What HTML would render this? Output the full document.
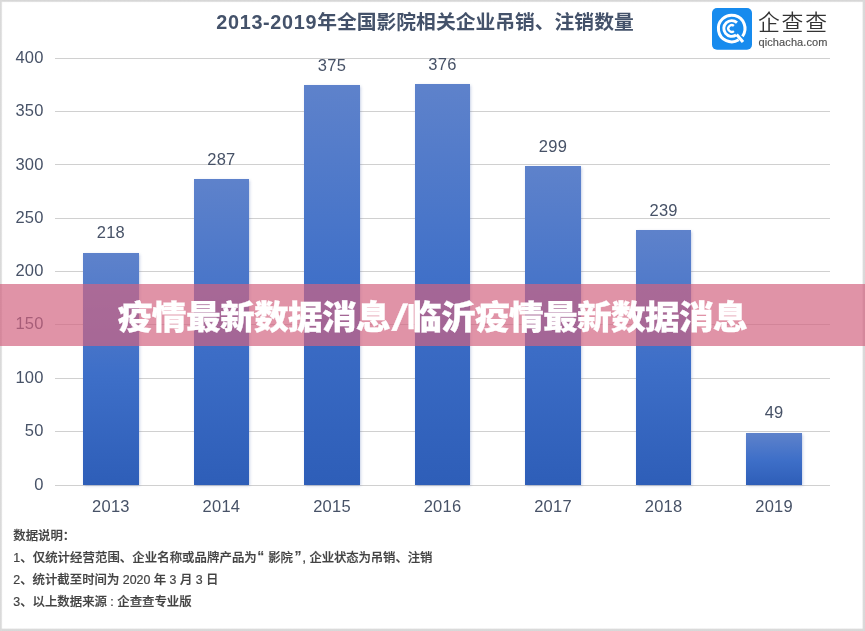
<!DOCTYPE html>
<html lang="zh-CN">
<head>
<meta charset="utf-8">
<title>疫情最新数据消息/临沂疫情最新数据消息</title>
<style>
html,body{margin:0;padding:0;}
body{width:865px;height:631px;overflow:hidden;background:#fff;position:relative;font-family:"Liberation Sans","Noto Sans CJK SC",sans-serif;}
.chart{position:absolute;left:0;top:0;width:865px;height:631px;background:#fff;filter:blur(.35px);}
.edge{position:absolute;}
.et{left:0;top:0;width:865px;height:3px;background:linear-gradient(to bottom,#d6d6d6 0,#d8d8d8 1.2px,#fff 2.6px);}
.eb{left:0;bottom:0;width:865px;height:3px;background:linear-gradient(to top,#d8d8d8 0,#dadada 1.6px,#fff 3px);}
.el{left:0;top:0;width:3px;height:631px;background:linear-gradient(to right,#d9d9d9 0,#dbdbdb 1.2px,rgba(255,255,255,0) 2.6px);}
.er{right:0;top:0;width:3px;height:631px;background:linear-gradient(to left,#d8d8d8 0,#dadada 1.6px,rgba(255,255,255,0) 3px);}
.title{position:absolute;left:0;top:8px;width:850px;text-align:center;font-size:19.8px;line-height:28px;font-weight:bold;color:#44526a;white-space:nowrap;}
.title .n{letter-spacing:.7px;}
.grid{position:absolute;left:55px;width:775px;height:1px;background:#d0d0d0;}
.ylab{position:absolute;left:0;width:43.7px;text-align:right;font-size:16.5px;line-height:20px;color:#475267;letter-spacing:.25px;}
.xlab{position:absolute;width:80px;text-align:center;font-size:16.5px;line-height:20px;color:#475267;letter-spacing:.25px;}
.vlab{position:absolute;width:80px;text-align:center;font-size:16.5px;line-height:20px;color:#475267;letter-spacing:.25px;}
.bar{position:absolute;background:linear-gradient(to bottom,#5e82cb 0%,#3e6fc8 52%,#2e5eb8 100%);box-shadow:0.5px 0.5px 3px rgba(70,100,170,.4);}
.notes{position:absolute;left:13.3px;top:526.2px;font-size:12.4px;line-height:21.9px;font-weight:500;color:#424242;white-space:nowrap;-webkit-text-stroke:.2px #424242;}
.notes div{height:21.9px;}
.notes .q{display:inline-block;text-align:center;font-size:18px;line-height:10px;height:10px;vertical-align:-1.6px;font-weight:400;-webkit-text-stroke:.25px #444;}
.notes .ql{width:7.95px;}
.notes .qr{width:8.8px;margin-left:-2.75px;}
.notes .a{letter-spacing:.06px;}
.notes .c{font-weight:400;-webkit-text-stroke:.3px #444;}
.notes .b{letter-spacing:-.1px;}
.logo{position:absolute;left:712px;top:8px;width:40px;height:42px;}
.brand{position:absolute;left:758px;top:9px;font-size:21.8px;line-height:28px;letter-spacing:1.8px;color:#333;font-weight:350;white-space:nowrap;}
.site{position:absolute;left:758.5px;top:35px;font-size:11px;line-height:14px;letter-spacing:.1px;color:#505050;-webkit-text-stroke:.15px #505050;white-space:nowrap;}
.band{position:absolute;left:0;top:284px;width:865px;height:61.5px;background:rgba(210,98,128,.69);}
.band h1{margin:0;position:absolute;left:-.4px;top:2.9px;width:865px;height:61.5px;line-height:61.5px;text-align:center;font-size:32.6px;font-weight:900;color:#fff;letter-spacing:-.66px;white-space:nowrap;transform:scaleX(1.066);transform-origin:432.5px 50%;-webkit-text-stroke:.3px #fff;}
.band h1 .s{display:inline-block;width:15.8px;text-align:center;letter-spacing:0;transform:translate(.9px,-.3px) skewX(-11deg) scale(1.2,1.12);}
</style>
</head>
<body>
<div class="chart">
<div class="title"><span class="n">2013-2019</span>年全国影院相关企业吊销、注销数量</div>

<svg class="logo" viewBox="0 0 40 42">
<rect x="0" y="0.1" width="40" height="41.7" rx="5" ry="5" fill="#178bee"/>
<g fill="none" stroke="#fff" stroke-linecap="butt">
<path d="M26.75 31.78 A13.30 13.30 0 1 1 30.46 28.32" stroke-width="3.00"/>
<path d="M24.12 27.05 A7.90 7.90 0 1 1 24.99 14.63" stroke-width="2.90"/>
<path d="M21.89 23.10 A3.40 3.40 0 1 1 21.89 17.90" stroke-width="2.30"/>
<path d="M24.60 26.40 L31.00 34.10" stroke-width="3.1"/>
</g>
</svg>
<div class="brand">企查查</div>
<div class="site">qichacha.com</div>

<div class="grid" style="top:484.7px"></div>
<div class="ylab" style="top:474.1px">0</div>
<div class="grid" style="top:430.8px"></div>
<div class="ylab" style="top:420.1px">50</div>
<div class="grid" style="top:377.5px"></div>
<div class="ylab" style="top:366.8px">100</div>
<div class="grid" style="top:324.1px"></div>
<div class="ylab" style="top:313.4px">150</div>
<div class="grid" style="top:270.8px"></div>
<div class="ylab" style="top:260.1px">200</div>
<div class="grid" style="top:217.5px"></div>
<div class="ylab" style="top:206.8px">250</div>
<div class="grid" style="top:164.2px"></div>
<div class="ylab" style="top:153.5px">300</div>
<div class="grid" style="top:110.8px"></div>
<div class="ylab" style="top:100.1px">350</div>
<div class="grid" style="top:57.5px"></div>
<div class="ylab" style="top:46.8px">400</div>


<div class="bar" style="left:83.1px;top:252.6px;width:55.6px;height:232.0px"></div>
<div class="vlab" style="left:70.9px;top:222.1px">218</div>
<div class="xlab" style="left:70.9px;top:496.0px">2013</div>
<div class="bar" style="left:193.6px;top:179.0px;width:55.6px;height:305.6px"></div>
<div class="vlab" style="left:181.4px;top:148.5px">287</div>
<div class="xlab" style="left:181.4px;top:496.0px">2014</div>
<div class="bar" style="left:304.2px;top:85.2px;width:55.6px;height:399.4px"></div>
<div class="vlab" style="left:292.0px;top:54.7px">375</div>
<div class="xlab" style="left:292.0px;top:496.0px">2015</div>
<div class="bar" style="left:414.7px;top:84.1px;width:55.6px;height:400.5px"></div>
<div class="vlab" style="left:402.5px;top:53.6px">376</div>
<div class="xlab" style="left:402.5px;top:496.0px">2016</div>
<div class="bar" style="left:525.2px;top:166.2px;width:55.6px;height:318.4px"></div>
<div class="vlab" style="left:513.0px;top:135.7px">299</div>
<div class="xlab" style="left:513.0px;top:496.0px">2017</div>
<div class="bar" style="left:635.8px;top:230.2px;width:55.6px;height:254.4px"></div>
<div class="vlab" style="left:623.6px;top:199.7px">239</div>
<div class="xlab" style="left:623.6px;top:496.0px">2018</div>
<div class="bar" style="left:746.3px;top:432.8px;width:55.6px;height:51.8px"></div>
<div class="vlab" style="left:734.1px;top:402.3px">49</div>
<div class="xlab" style="left:734.1px;top:496.0px">2019</div>

<div class="notes">
<div>数据说明：</div>
<div><span class="a">1、仅统计经营范围、企业名称或品牌产品为</span><span class="q ql">“</span> 影院 <span class="q qr">”</span><span class="c">,</span> <span class="b">企业状态为吊销、注销</span></div>
<div>2、统计截至时间为 2020 年 3 月 3 日</div>
<div>3、以上数据来源 : 企查查专业版</div>
</div>
</div>
<div class="edge et"></div><div class="edge eb"></div><div class="edge el"></div><div class="edge er"></div>
<div class="band"><h1>疫情最新数据消息<span class="s">/</span>临沂疫情最新数据消息</h1></div>
</body>
</html>
